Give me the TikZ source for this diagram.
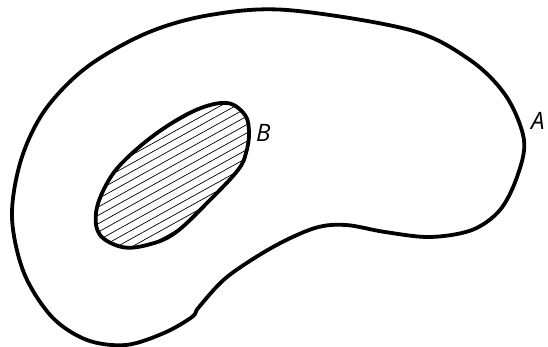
\documentclass[tikz,border=0pt]{standalone}
\usepackage{fontspec}
\setmainfont{Open Sans}
\usepackage{tikz}

\begin{document}
\begin{tikzpicture}[x=1pt, y=-1pt, every node/.style={font=\fontsize{24}{24}\selectfont\itshape, inner sep=0pt}]
\useasboundingbox (0,0) rectangle (548,347);

% Outer region A
\draw[line width=3.8pt] plot[smooth cycle, tension=0.55] coordinates {
    (287,10) (410,30) (470,60) (506,96) (524,140) (517,177) (500,210)
    (472,230) (430,237) (385,232) (346,225) (315,228) (273,247) (227,277)
    (199,307) (192,317) (164,333) (126,345) (87,340) (52,317) (24,273)
    (12,217) (21,160) (45,110) (87,67) (147,33) (210,15)};
\node[anchor=base west] (labA) at (531,130) {A};

% Inner region B with hatching
\begin{scope}
\clip plot[smooth cycle, tension=0.6] coordinates {
    (227,103) (245,115) (249,133) (246,153) (238,170) (210,200) (175,233)
    (147,245) (122,247) (100,235) (96,213) (105,187) (122,163) (157,133)
    (196,110)};
\begin{scope}[shift={(172,175)}, rotate=29]
\foreach \d in {-110,-102.7,...,110} {
    \draw[line width=0.7pt] (-170,\d) -- (170,\d);
}
\end{scope}
\end{scope}
\draw[line width=3.8pt] plot[smooth cycle, tension=0.6] coordinates {
    (227,103) (245,115) (249,133) (246,153) (238,170) (210,200) (175,233)
    (147,245) (122,247) (100,235) (96,213) (105,187) (122,163) (157,133)
    (196,110)};
\node[anchor=base west] (labB) at (256,142) {B};

\end{tikzpicture}
\end{document}
